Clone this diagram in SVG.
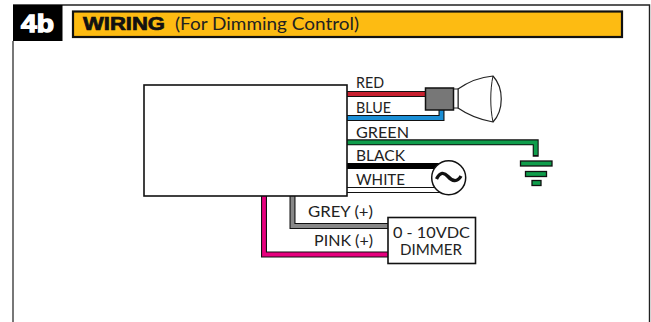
<svg xmlns="http://www.w3.org/2000/svg" width="651" height="322" viewBox="0 0 651 322">
<style>
text{font-family:"Lato","Liberation Sans",sans-serif;font-size:15.500px;fill:#222}
.k{fill:none;stroke:#111;stroke-width:6}
.w{fill:none;stroke-width:3.800}
.b{fill:#fff;stroke:#111;stroke-width:1.600}
</style>
<rect width="651" height="322" fill="#fff"/>
<g id="frame">
<path d="M13 41V322" fill="none" stroke="#777" stroke-width="2"/>
<path d="M13 5H649.500V322" fill="none" stroke="#222" stroke-width="1.400"/>
<rect x="13" y="5" width="49.500" height="36" fill="#000"/>
<text x="21" y="32" textLength="33" lengthAdjust="spacingAndGlyphs" style="font-family:'Liberation Sans',sans-serif;font-size:24px;font-weight:700;fill:#fff;stroke:#fff;stroke-width:1.300">4b</text>
</g>
<g id="title">
<rect x="73" y="11.500" width="549" height="25.500" fill="#fdbb12" stroke="#111" stroke-width="2.200"/>
<text x="83" y="30" textLength="82" lengthAdjust="spacingAndGlyphs" style="font-family:'Liberation Sans',sans-serif;font-size:18.500px;font-weight:700;fill:#111;stroke:#111;stroke-width:.7">WIRING</text>
<text x="175" y="30" textLength="184" lengthAdjust="spacingAndGlyphs" style="font-size:17.500px">(For Dimming Control)</text>
</g>
<g id="connectors">
<path class="k" d="M347 94H426"/><path class="w" stroke="#c8202f" d="M347 94H426"/>
<path class="k" d="M347 118H441.500V109"/><path class="w" stroke="#1b8fd6" d="M347 118H441.500V109"/>
<path class="k" d="M347 142.300H535.700V156.700"/><path class="w" stroke="#0f9d4b" d="M347 142.300H535.700V155"/>
<path d="M347 166H440" stroke="#000" stroke-width="6"/>
<path class="k" d="M347 190H440"/><path class="w" stroke="#fff" d="M347 190H440"/>
<path class="k" d="M292.500 196V226H388"/><path class="w" stroke="#888" d="M292.500 196V226H388"/>
<path class="k" d="M264 196V254.500H388"/><path class="w" stroke="#e6007e" d="M264 196V254.500H388"/>
</g>
<g id="module"><rect class="b" x="144" y="85" width="203" height="111"/></g>
<g id="lamp">
<path d="M458 89C468 82 482 77 493 76C504 88 504 110 493 122C482 120 468 115 458 108Z" fill="#fff" stroke="#222" stroke-width="1.200"/>
<path d="M493 76C490 90 490 108 493 122" fill="none" stroke="#222" stroke-width="1"/>
<rect x="453.500" y="89" width="4.500" height="19" fill="#fff" stroke="#222"/>
<rect x="425.500" y="88" width="28" height="22" fill="#777" stroke="#111" stroke-width="1.500"/>
</g>
<g id="ground" fill="#0f9d4b" stroke="#111" stroke-width="1.300">
<rect x="520.500" y="161" width="31.500" height="5"/>
<rect x="525.500" y="171.500" width="21" height="5"/>
<rect x="532" y="180.500" width="9" height="5"/>
</g>
<g id="source">
<circle cx="448.700" cy="177.700" r="17" fill="#fff" stroke="#111" stroke-width="1.500"/>
<path d="M436.500 179C440 172 444 172 448 176.500S457 183 461 176" fill="none" stroke="#111" stroke-width="3.400"/>
</g>
<g id="dimmer">
<rect class="b" x="388" y="217.500" width="87.500" height="46"/>
<text x="393" y="237.700" textLength="77" lengthAdjust="spacingAndGlyphs">0 - 10VDC</text>
<text x="400" y="254.500" textLength="62" lengthAdjust="spacingAndGlyphs">DIMMER</text>
</g>
<g id="labels">
<text x="356" y="88" textLength="28" lengthAdjust="spacingAndGlyphs">RED</text>
<text x="356" y="113" textLength="35" lengthAdjust="spacingAndGlyphs">BLUE</text>
<text x="356" y="137.700" textLength="53" lengthAdjust="spacingAndGlyphs">GREEN</text>
<text x="356" y="161" textLength="49" lengthAdjust="spacingAndGlyphs">BLACK</text>
<text x="356" y="185" textLength="49" lengthAdjust="spacingAndGlyphs">WHITE</text>
<text x="308" y="217" textLength="65" lengthAdjust="spacingAndGlyphs">GREY (+)</text>
<text x="314" y="246" textLength="59" lengthAdjust="spacingAndGlyphs">PINK (+)</text>
</g>
</svg>
